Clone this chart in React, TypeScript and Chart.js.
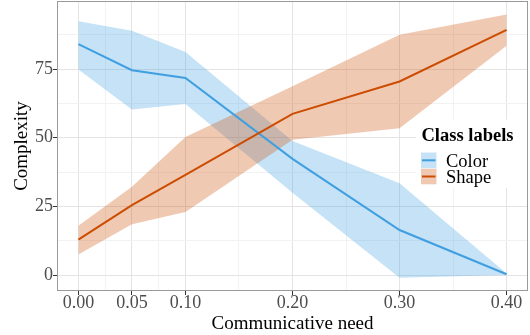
import React, { useEffect, useRef } from "react";
import { Chart, registerables } from "chart.js";

Chart.register(...registerables);

// ---- data ----
const xValues = [0, 0.05, 0.1, 0.2, 0.3, 0.4];
const colorMean = [84.1, 74.6, 71.8, 42.3, 16.4, 0.3];
const colorUpper = [92.4, 89.0, 81.2, 48.8, 33.4, 0.6];
const colorLower = [74.9, 60.3, 62.3, 30.0, -1.0, 0.0];
const shapeMean = [12.9, 25.5, 36.5, 58.7, 70.5, 89.3];
const shapeUpper = [18.0, 32.2, 50.3, 68.8, 87.5, 94.9];
const shapeLower = [7.5, 18.5, 23.0, 49.3, 53.5, 83.5];

const xMajorTicks = [0, 0.05, 0.1, 0.2, 0.3, 0.4];
const xMinorTicks = [0.025, 0.075, 0.15, 0.25, 0.35];
const yMajorTicks = [0, 25, 50, 75];
const yMinorTicks = [12.5, 37.5, 62.5, 87.5];

const seriesNames = ["Color", "Shape"];
const legendTitle = "Class labels";
const xTitle = "Communicative need";
const yTitle = "Complexity";

// ---- styles ----
const FONT = "'Liberation Serif', 'Times New Roman', serif";
const BLUE = "rgb(63,159,224)";
const BLUE_FILL = "rgba(63,159,224,0.3)";
const ORANGE = "rgb(204,76,2)";
const ORANGE_FILL = "rgba(204,76,2,0.3)";
const GRID_MAJOR = "#e4e4e4";
const GRID_MINOR = "#f2f2f2";
const FRAME = "#9a9a9a";

const pts = (ys: number[]) => xValues.map((x, i) => ({ x, y: ys[i] }));
const near = (a: number, list: number[]) => list.some((v) => Math.abs(v - a) < 1e-9);

const framePlugin = {
  id: "frameAndLegend",
  afterDatasetsDraw(chart: any) {
    const ctx = chart.ctx;
    const a = chart.chartArea;
    ctx.save();
    // legend box
    ctx.fillStyle = "#ffffff";
    ctx.fillRect(416, 119.5, 111, 68.5);
    ctx.fillStyle = "#000";
    ctx.textAlign = "left";
    ctx.textBaseline = "alphabetic";
    ctx.font = `bold 18.5px ${FONT}`;
    ctx.fillText(legendTitle, 421.5, 140.5);
    const rows = [
      { name: seriesNames[0], fill: BLUE_FILL, line: BLUE, cy: 160.3, base: 166.7 },
      { name: seriesNames[1], fill: ORANGE_FILL, line: ORANGE, cy: 176.5, base: 183 },
    ];
    rows.forEach((r) => {
      ctx.fillStyle = r.fill;
      ctx.fillRect(421, r.cy - 7.8, 15.5, 15.6);
      ctx.strokeStyle = r.line;
      ctx.lineWidth = 2;
      ctx.beginPath();
      ctx.moveTo(422, r.cy);
      ctx.lineTo(435.5, r.cy);
      ctx.stroke();
      ctx.fillStyle = "#000";
      ctx.font = `18.5px ${FONT}`;
      ctx.fillText(r.name, 446, r.base);
    });
    // panel frame
    ctx.strokeStyle = FRAME;
    ctx.lineWidth = 1;
    ctx.strokeRect(a.left + 0.5, a.top + 0.5, a.right - a.left - 1, a.bottom - a.top - 1);
    ctx.restore();
  },
};

export default function App() {
  const ref = useRef<HTMLCanvasElement | null>(null);

  useEffect(() => {
    if (!ref.current) return;
    const chart = new Chart(ref.current, {
      type: "line",
      data: {
        datasets: [
          {
            label: seriesNames[1],
            data: pts(shapeMean),
            borderColor: ORANGE,
            borderWidth: 2,
            pointRadius: 0,
            fill: false,
            tension: 0,
          },
          {
            label: seriesNames[0],
            data: pts(colorMean),
            borderColor: BLUE,
            borderWidth: 2,
            pointRadius: 0,
            fill: false,
            tension: 0,
          },
          {
            label: "shape upper",
            data: pts(shapeUpper),
            borderWidth: 0,
            borderColor: "rgba(0,0,0,0)",
            backgroundColor: ORANGE_FILL,
            pointRadius: 0,
            fill: "+1",
          },
          {
            label: "shape lower",
            data: pts(shapeLower),
            borderWidth: 0,
            borderColor: "rgba(0,0,0,0)",
            pointRadius: 0,
            fill: false,
          },
          {
            label: "color upper",
            data: pts(colorUpper),
            borderWidth: 0,
            borderColor: "rgba(0,0,0,0)",
            backgroundColor: BLUE_FILL,
            pointRadius: 0,
            fill: "+1",
          },
          {
            label: "color lower",
            data: pts(colorLower),
            borderWidth: 0,
            borderColor: "rgba(0,0,0,0)",
            pointRadius: 0,
            fill: false,
          },
        ],
      },
      options: {
        responsive: false,
        animation: false,
        devicePixelRatio: 1,
        layout: { padding: { top: 1, right: 2, left: 0, bottom: 0 } },
        plugins: {
          legend: { display: false },
          tooltip: { enabled: false },
          filler: { drawTime: "beforeDatasetsDraw" },
        },
        scales: {
          x: {
            type: "linear",
            min: -0.02,
            max: 0.42,
            afterBuildTicks: (scale: any) => {
              scale.ticks = [...xMajorTicks, ...xMinorTicks]
                .sort((a, b) => a - b)
                .map((v) => ({ value: v }));
            },
            afterFit: (scale: any) => {
              scale.height = 44;
              scale.paddingLeft = 0;
              scale.paddingRight = 0;
            },
            ticks: {
              autoSkip: false,
              maxRotation: 0,
              minRotation: 0,
              padding: -2.6,
              color: "#4d4d4d",
              font: { family: FONT, size: 18 },
              callback: (v: any) => (near(Number(v), xMajorTicks) ? Number(v).toFixed(2) : ""),
            },
            grid: {
              color: (c: any) => (c.tick && near(c.tick.value, xMajorTicks) ? GRID_MAJOR : GRID_MINOR),
              tickColor: (c: any) => (c.tick && near(c.tick.value, xMajorTicks) ? "#333" : "rgba(0,0,0,0)"),
              lineWidth: 1,
              tickLength: 4,
              tickWidth: 1,
            },
            border: { display: false },
            title: {
              display: true,
              text: xTitle,
              color: "#000",
              font: { family: FONT, size: 19 },
              padding: { top: 0, bottom: 0 },
            },
          },
          y: {
            type: "linear",
            min: -5.8,
            max: 99.8,
            afterBuildTicks: (scale: any) => {
              scale.ticks = [...yMajorTicks, ...yMinorTicks]
                .sort((a, b) => a - b)
                .map((v) => ({ value: v }));
            },
            afterFit: (scale: any) => {
              scale.width = 57;
              scale.paddingTop = 0;
              scale.paddingBottom = 0;
            },
            ticks: {
              autoSkip: false,
              padding: 0,
              color: "#4d4d4d",
              font: { family: FONT, size: 18 },
              callback: (v: any) => (near(Number(v), yMajorTicks) ? String(v) : ""),
            },
            grid: {
              color: (c: any) => (c.tick && near(c.tick.value, yMajorTicks) ? GRID_MAJOR : GRID_MINOR),
              tickColor: (c: any) => (c.tick && near(c.tick.value, yMajorTicks) ? "#333" : "rgba(0,0,0,0)"),
              lineWidth: 1,
              tickLength: 4,
              tickWidth: 1,
            },
            border: { display: false },
            title: {
              display: true,
              text: yTitle,
              color: "#000",
              font: { family: FONT, size: 19 },
              padding: { top: 10.2, bottom: 0 },
            },
          },
        },
      } as any,
      plugins: [framePlugin],
    });
    return () => chart.destroy();
  }, []);

  return (
    <div style={{ position: "fixed", left: 0, top: 0, width: 530, height: 335, background: "#fff" }}>
      <canvas ref={ref} width={530} height={335} style={{ display: "block", width: 530, height: 335 }} />
    </div>
  );
}
